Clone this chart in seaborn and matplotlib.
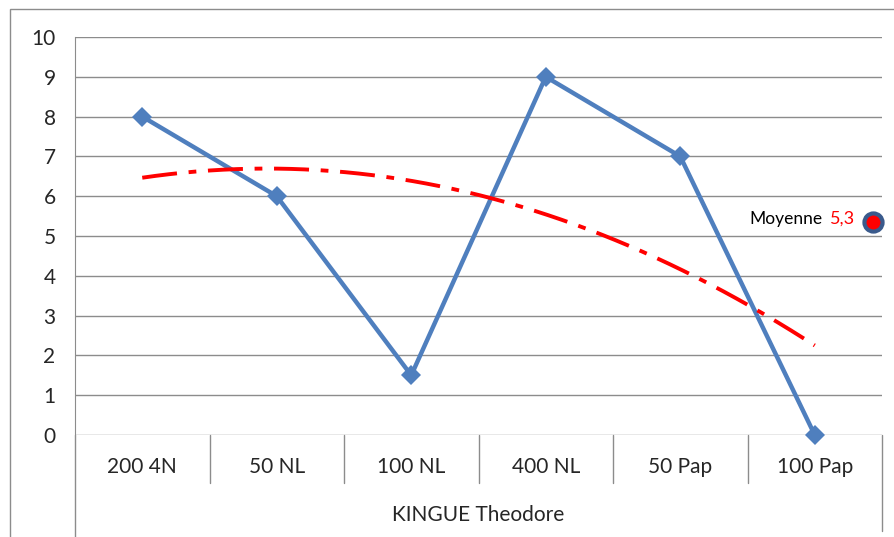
import numpy as np
import pandas as pd
import matplotlib
matplotlib.use("Agg")
import matplotlib.pyplot as plt
from matplotlib.patches import Rectangle
import seaborn as sns

# données
epreuves = ["200 4N", "50 NL", "100 NL", "400 NL", "50 Pap", "100 Pap"]
notes = [8, 6, 1.5, 9, 7, 0]
nageur = "KINGUE Theodore"
moyenne_label = "5,3"

sns.set_style("white")
plt.rcParams["font.family"] = ["Lato", "DejaVu Sans"]

df = pd.DataFrame({"pos": np.arange(1, len(epreuves) + 1), "note": notes})
moyenne = float(np.mean(notes))

# tendance polynomiale (ordre 2), comme dans Excel
coef = np.polyfit(df["pos"], df["note"], 2)
xt = np.linspace(1, len(epreuves), 200)
df_trend = pd.DataFrame({"pos": xt, "note": np.polyval(coef, xt)})

fig = plt.figure(figsize=(8.94, 5.37), dpi=100)
ax = fig.add_axes([75 / 894, 1 - 435 / 537, (882 - 75) / 894, (435 - 37) / 537])

grid_col = "#8c8c8c"
for v in range(0, 11):
    ax.axhline(v, color=grid_col, lw=1.0, zorder=0)

sns.lineplot(data=df, x="pos", y="note", ax=ax, color="#4F7FBE", lw=3.2,
             marker="D", markersize=10, markeredgewidth=0, zorder=3)
ax.lines[-1].set_clip_on(False)
sns.lineplot(data=df_trend, x="pos", y="note", ax=ax, color="#FF0000", lw=2.8,
             zorder=4, dashes=False)
ax.lines[-1].set_dashes([9, 3, 2, 3])

# point moyenne
ax.scatter([6.43], [moyenne + 0.1], s=170, color="red", edgecolor="#3A5A8C",
           linewidth=3, zorder=5, clip_on=False)
ax.text(6.30, moyenne + 0.18, moyenne_label, color="red", fontsize=13,
        ha="right", va="center")
ax.text(6.06, moyenne + 0.18, "Moyenne", color="black", fontsize=12.5,
        ha="right", va="center")

ax.set_xlim(0.5, len(epreuves) + 0.5)
ax.set_ylim(0, 10)
ax.set_yticks(range(0, 11))
ax.set_xticks([])
ax.set_xlabel("")
ax.set_ylabel("")
ax.tick_params(axis="y", length=8, color=grid_col, labelsize=15, pad=6)
for s in ["top", "right", "bottom"]:
    ax.spines[s].set_visible(False)
ax.spines["left"].set_color(grid_col)

# axe des catégories à deux niveaux
tr = ax.get_xaxis_transform()
for i in range(len(epreuves) + 1):
    x = 0.5 + i
    if i == 0:
        y0 = -0.26
    elif i == len(epreuves):
        y0 = -0.24
    else:
        y0 = -0.121
    ax.plot([x, x], [0, y0], color=grid_col, lw=1.0, transform=tr, clip_on=False)
for i, e in enumerate(epreuves):
    ax.text(i + 1, -0.08, e, transform=tr, ha="center", va="center", fontsize=15)
ax.text((len(epreuves) + 1) / 2, -0.2, nageur, transform=tr, ha="center",
        va="center", fontsize=15)

# cadre du graphique
fig.patches.append(Rectangle((10 / 894, -0.1), 1.2, 1 - 9 / 537 + 0.1,
                             transform=fig.transFigure, fill=False,
                             edgecolor="#8c8c8c", lw=1.0))

fig.savefig("out.png", dpi=100)
